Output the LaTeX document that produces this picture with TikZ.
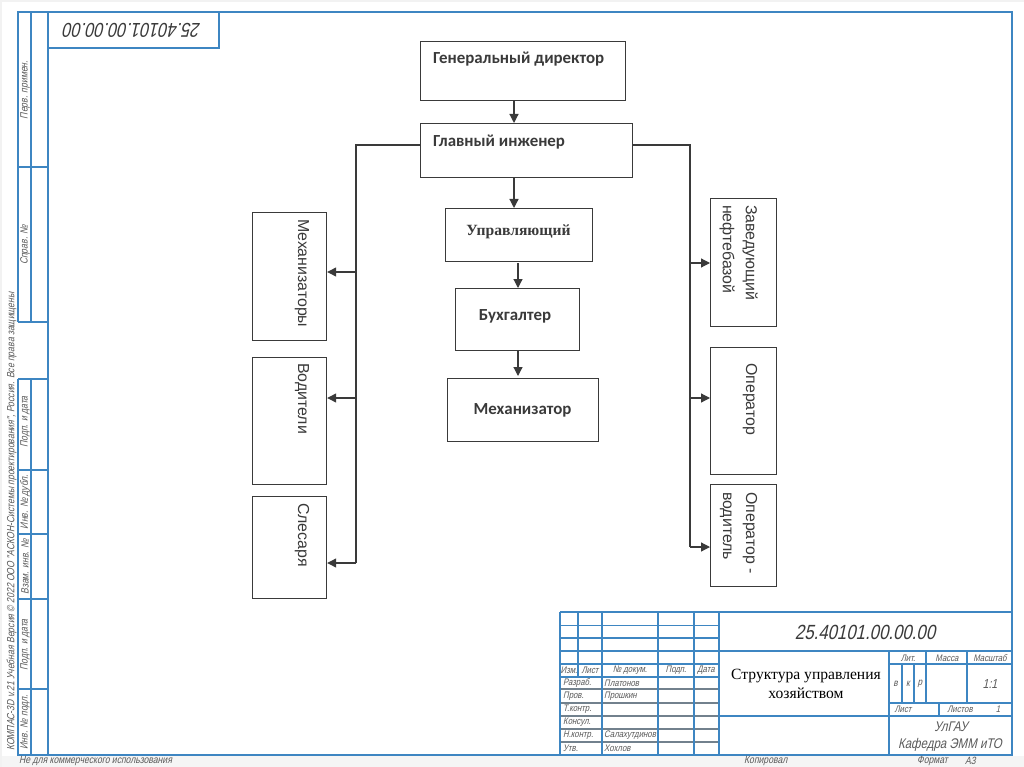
\documentclass[tikz,border=0pt]{standalone}
\usepackage{fontspec}
\setmainfont{Liberation Serif}
\newfontfamily\cadf[FakeStretch=0.82,FakeSlant=0.22]{Liberation Sans}
\newfontfamily\calf{Carlito}
\newfontfamily\arlf{Liberation Sans}
\definecolor{fr}{HTML}{3E86C2}
\definecolor{ink}{HTML}{3A3A3A}
\definecolor{cadt}{HTML}{5A5A5A}
\usetikzlibrary{arrows.meta}
\tikzset{
 x=1pt,y=-1pt,
 box/.style={draw=ink,line width=1.2pt,fill=white,inner sep=0pt,anchor=north west},
 arr/.style={draw=ink,line width=1.2pt,-{Triangle[length=9pt,width=9pt]}},
 bus/.style={draw=ink,line width=1.2pt},
 frame/.style={draw=fr,line width=1.3pt},
 frameb/.style={draw=fr,line width=1.7pt},
 frameg/.style={draw=gray!80!fr,line width=1.1pt},
 cadl/.style={inner sep=0pt,text=cadt,font=\cadf\fontsize{9.5}{11}\selectfont},
 cads/.style={inner sep=0pt,text=cadt,font=\cadf\fontsize{10.5}{12}\selectfont},
 cadm/.style={inner sep=0pt,text=cadt,font=\cadf\fontsize{10}{12}\selectfont},
 cadb/.style={inner sep=0pt,text=ink,font=\cadf\fontsize{20}{24}\selectfont},
 lblc/.style={inner sep=0pt,anchor=west,text=ink,font=\calf\bfseries\fontsize{16.9}{20}\selectfont},
 lbls/.style={inner sep=0pt,text=ink,font=\fontsize{15.6}{18}\selectfont\bfseries},
 lblv/.style={inner sep=0pt,text=ink,rotate=-90,anchor=west,font=\arlf\fontsize{15.9}{23}\selectfont,align=left},
}
\begin{document}
\begin{tikzpicture}
\useasboundingbox (0,0) rectangle (1024,767);
\fill[white] (0,0) rectangle (1024,767);
\fill[gray!8] (0,756) rectangle (1024,767);
\fill[gray!10] (0,0) rectangle (1024,2);
\fill[gray!10] (0,0) rectangle (2,767);
% --- frame
\draw[frame] (18,322) -- (18,12) -- (1012,12) -- (1012,755) -- (47.7,755);
\draw[frame] (18,379) -- (18,755) -- (47.7,755);
\draw[frame] (31,12) -- (31,322) (31,379) -- (31,755);
\draw[frameb] (47.7,12) -- (47.7,755);
\draw[frame] (219,12) -- (219,48) -- (47.7,48);
\foreach \yy in {167,322,379,470,534,599,689} \draw[frame] (18,\yy) -- (47.7,\yy);
% --- title block
\foreach \yy in {625.7,638,651,664} \draw[frame] (560,\yy) -- (719,\yy);
\draw[frameb] (560,677) -- (719,677);
\foreach \yy in {689,703,716,729,742} \draw[frameg] (560,\yy) -- (719,\yy);
\draw[frameb] (560,612) -- (1012,612);
\draw[frameb] (560,612) -- (560,755);
\draw[frame] (578,612) -- (578,677);
\foreach \xx in {602,658,694,719} \draw[frame] (\xx,612) -- (\xx,755);
\draw[frame] (719,651) -- (1012,651) (719,716) -- (1012,716);
\draw[frame] (889,651) -- (889,755);
\draw[frame] (889,664) -- (1012,664) (889,703) -- (1012,703);
\draw[frame] (926,651) -- (926,703) (967,651) -- (967,703);
\draw[frame] (902,664) -- (902,703) (914,664) -- (914,703);
\draw[frame] (939,703) -- (939,716);
% --- CAD texts
\node[cadb,rotate=180] (topnum) at (132.5,30) {25.40101.00.00.00};
\node[cadb,font=\cadf\fontsize{20.5}{24}\selectfont] (num) at (865,632) {25.40101.00.00.00};
\node[cads,rotate=90] (s1) at (25,90) {Перв. примен.};
\node[cads,rotate=90] (s2) at (25,245) {Справ. №};
\node[cads,rotate=90] (s3) at (25,422) {Подп. и дата};
\node[cads,rotate=90] (s4) at (25,502) {Инв. № дубл.};
\node[cads,rotate=90] (s5) at (25,567) {Взам. инв. №};
\node[cads,rotate=90] (s6) at (25,645) {Подп. и дата};
\node[cads,rotate=90] (s7) at (25,722) {Инв. № подл.};
\node[cads,rotate=90,anchor=west] (s8) at (11.5,751) {КОМПАС-3D v.21 Учебная Версия © 2022 ООО "АСКОН-Системы проектирования", Россия. Все права защищены};
\node[cads,anchor=west] (nc) at (19,761) {Не для коммерческого использования};
\node[cads,anchor=west] (kop) at (744,761) {Копировал};
\node[cads,anchor=west] (fmt) at (917,761) {Формат};
\node[cads,anchor=west] (a3) at (965,761) {А3};
\node[cadl] (h1) at (569,670.5) {Изм.};
\node[cadl] (h2) at (590,670.5) {Лист};
\node[cadl] (h3) at (630,670.5) {№ докум.};
\node[cadl] (h4) at (676,670.5) {Подп.};
\node[cadl] (h5) at (706,670.5) {Дата};
\node[cadl,anchor=west] (r1) at (563,683) {Разраб.};
\node[cadl,anchor=west] (r2) at (563,696) {Пров.};
\node[cadl,anchor=west] (r3) at (563,709.5) {Т.контр.};
\node[cadl,anchor=west] (r4) at (563,722.5) {Консул.};
\node[cadl,anchor=west] (r5) at (563,735.5) {Н.контр.};
\node[cadl,anchor=west] (r6) at (563,748.5) {Утв.};
\node[cadl,anchor=west] (n1) at (604,683) {Платонов};
\node[cadl,anchor=west] (n2) at (604,696) {Прошкин};
\node[cadl,anchor=west] (n5) at (604,735.5) {Салахутдинов};
\node[cadl,anchor=west] (n6) at (604,748.5) {Хохлов};
\node[cadl] (l1) at (908,658) {Лит.};
\node[cadl] (l2) at (947,658) {Масса};
\node[cadl] (l3) at (990,658) {Масштаб};
\node[cadm] (v1) at (895.5,684) {в};
\node[cadm] (v2) at (908,684) {к};
\node[cadm] (v3) at (920,684) {р};
\node[cadm,font=\cadf\fontsize{13}{15}\selectfont] (v4) at (990,684) {1:1};
\node[cadl] (p1) at (903,709.5) {Лист};
\node[cadl] (p2) at (960,709.5) {Листов};
\node[cadl] (p3) at (998,709.5) {1};
\node[cadm,font=\cadf\fontsize{14}{16}\selectfont] (u1) at (951,727) {УлГАУ};
\node[cadm,font=\cadf\fontsize{14}{16}\selectfont] (u2) at (950,745) {Кафедра ЭММ иТО};
\node[inner sep=0pt,align=center,text=black,font=\fontsize{15.6}{19}\selectfont] (ttl) at (806,683.5) {Структура управления\\хозяйством};
% --- boxes
\node[box,minimum width=205pt,minimum height=59pt] (gd) at (420,41) {};
\node[box,minimum width=212pt,minimum height=54pt] (gi) at (420,123) {};
\node[box,minimum width=147pt,minimum height=53pt] (up) at (445,208) {};
\node[box,minimum width=124pt,minimum height=62pt] (bu) at (455,288) {};
\node[box,minimum width=151pt,minimum height=63pt] (me) at (447,378) {};
\node[box,minimum width=74pt,minimum height=128pt] (mz) at (252,212) {};
\node[box,minimum width=74pt,minimum height=127pt] (vo) at (252,357) {};
\node[box,minimum width=74pt,minimum height=102pt] (sl) at (252,496) {};
\node[box,minimum width=66pt,minimum height=128pt] (zn) at (710,198) {};
\node[box,minimum width=66pt,minimum height=127pt] (op) at (710,347) {};
\node[box,minimum width=66pt,minimum height=102pt] (ov) at (710,484) {};
% --- labels
\node[lblc] (tgd) at (433,59) {Генеральный директор};
\node[lblc] (tgi) at (433,142) {Главный инженер};
\node[lbls] (tup) at (518.5,232) {Управляющий};
\node[lblc,anchor=center] (tbu) at (515,316) {Бухгалтер};
\node[lblc,anchor=center] (tme) at (522.5,410) {Механизатор};
\node[lblv] (tmz) at (302,219) {Механизаторы};
\node[lblv] (tvo) at (302,363) {Водители};
\node[lblv] (tsl) at (302,503) {Слесаря};
\node[lblv] (tzn) at (738.5,205) {Заведующий\\нефтебазой};
\node[lblv] (top) at (750,363) {Оператор};
\node[lblv] (tov) at (738.5,492) {Оператор -\\водитель};
% --- connectors
\coordinate (ax1) at (514,0);
\coordinate (ax2) at (518,0);
\draw[arr] (ax1 |- gd.south) -- (ax1 |- gi.north);
\draw[arr] (ax1 |- gi.south) -- (ax1 |- up.north);
\draw[arr] (518,263) -- (ax2 |- bu.north);
\draw[arr] (ax2 |- bu.south) -- (518,376);
\coordinate (lt) at (356,145);
\coordinate (lm) at (356,272);
\coordinate (lv) at (356,398);
\coordinate (ls) at (356,563);
\draw[bus] (gi.west |- lt) -- (lt) -- (ls);
\draw[arr] (lm) -- (lm -| mz.east);
\draw[arr] (lv) -- (lv -| vo.east);
\draw[arr] (ls) -- (ls -| sl.east);
\coordinate (rt) at (690,145);
\coordinate (rz) at (690,263);
\coordinate (ro) at (690,398);
\coordinate (rv) at (690,547);
\draw[bus] (gi.east |- rt) -- (rt) -- (rv);
\draw[arr] (rz) -- (rz -| zn.west);
\draw[arr] (ro) -- (ro -| op.west);
\draw[arr] (rv) -- (rv -| ov.west);
\end{tikzpicture}
\end{document}
